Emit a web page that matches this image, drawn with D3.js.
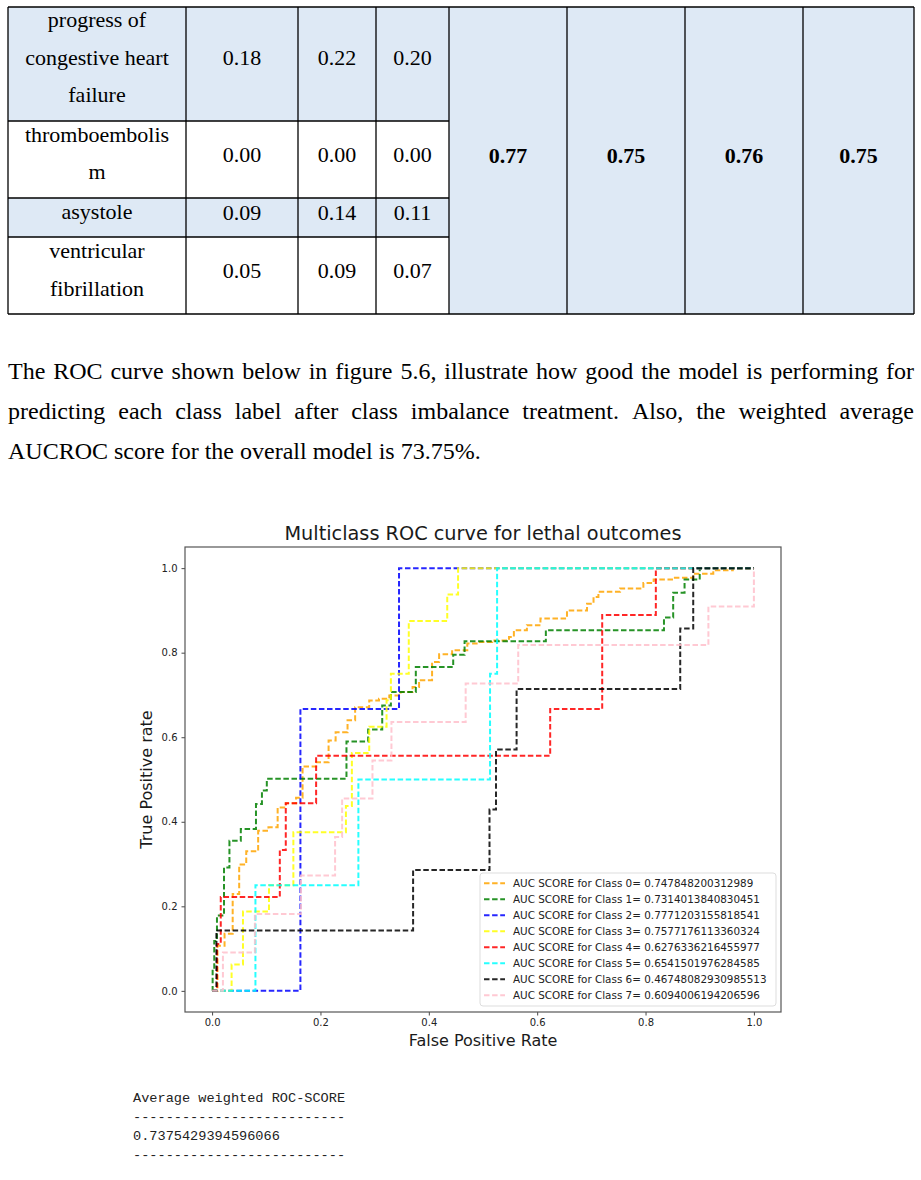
<!DOCTYPE html>
<html><head><meta charset="utf-8">
<script src="https://cdn.jsdelivr.net/npm/d3@7"></script>
<style>html,body{margin:0;padding:0;background:#fff;} svg{display:block;}</style>
</head><body>
<svg id="page" width="921" height="1180"></svg>
<script>
// ---------- table data ----------
const rowLabels = [["progress of","congestive heart","failure"],["thromboembolis","m"],["asystole"],["ventricular","fibrillation"]];
const precisionVals = ["0.18","0.00","0.09","0.05"];
const recallVals = ["0.22","0.00","0.14","0.09"];
const f1Vals = ["0.20","0.00","0.11","0.07"];
const summaryVals = ["0.77","0.75","0.76","0.75"];

// ---------- paragraph ----------
const paragraphLines = [
  "The ROC curve shown below in figure 5.6, illustrate how good the model is performing for",
  "predicting each class label after class imbalance treatment. Also, the weighted average",
  "AUCROC score for the overall model is 73.75%."
];

// ---------- ROC chart data ----------
const chartTitle = "Multiclass ROC curve for lethal outcomes";
const xTicks = [0.0, 0.2, 0.4, 0.6, 0.8, 1.0];
const yTicks = [0.0, 0.2, 0.4, 0.6, 0.8, 1.0];
const classColors = ["orange","green","blue","yellow","red","cyan","black","pink"];
const aucScores = ["0.747848200312989","0.7314013840830451","0.7771203155818541","0.7577176113360324",
                   "0.6276336216455977","0.6541501976284585","0.46748082930985513","0.6094006194206596"];

const fpr0 = [0,0.010,0.023,0.038,0.050,0.063,0.085,0.104,0.121,0.136,0.155,0.167,0.192,0.215,0.228,0.250,0.264,0.290,0.308,0.327,0.348,0.370,0.382,0.406,0.419,0.443,0.471,0.492,0.517,0.548,0.557,0.581,0.606,0.655,0.692,0.704,0.713,0.753,0.796,0.815,0.851,0.888,0.925,0.961,1.0];
const tpr0 = [0,0.107,0.135,0.229,0.299,0.330,0.379,0.387,0.434,0.444,0.457,0.531,0.541,0.592,0.612,0.640,0.671,0.687,0.691,0.699,0.707,0.719,0.735,0.778,0.796,0.806,0.822,0.825,0.829,0.837,0.853,0.865,0.881,0.900,0.916,0.932,0.944,0.952,0.965,0.973,0.977,0.987,0.995,1.0,1.0];
const fpr1 = [0,0.001,0.004,0.009,0.022,0.032,0.053,0.081,0.092,0.101,0.248,0.288,0.314,0.330,0.376,0.445,0.466,0.616,0.834,0.851,0.872,0.900,1.0];
const tpr1 = [0,0.051,0.118,0.178,0.292,0.355,0.383,0.442,0.474,0.502,0.590,0.618,0.675,0.707,0.766,0.795,0.827,0.853,0.883,0.942,0.973,1.0,1.0];
const fpr2 = [0,0.163,0.345,1.0];
const tpr2 = [0,0.667,1.0,1.0];
const fpr3 = [0,0.036,0.057,0.105,0.150,0.247,0.258,0.290,0.322,0.330,0.363,0.434,0.454,1.0];
const tpr3 = [0,0.0625,0.1875,0.25,0.375,0.4375,0.5625,0.625,0.6875,0.75,0.875,0.9375,1.0,1.0];
const fpr4 = [0,0.009,0.016,0.125,0.136,0.192,0.624,0.720,0.819,1.0];
const tpr4 = [0,0.111,0.222,0.333,0.444,0.556,0.667,0.889,1.0,1.0];
const fpr5 = [0,0.080,0.270,0.513,0.526,1.0];
const tpr5 = [0,0.25,0.5,0.75,1.0,1.0];
const fpr6 = [0,0.008,0.371,0.512,0.524,0.562,0.864,0.888,1.0];
const tpr6 = [0,0.143,0.286,0.429,0.571,0.714,0.857,1.0,1.0];
const fpr7 = [0,0.020,0.079,0.164,0.227,0.240,0.296,0.331,0.468,0.565,0.916,1.0];
const tpr7 = [0,0.091,0.182,0.273,0.364,0.455,0.545,0.636,0.727,0.818,0.909,1.0];

const fprs = [fpr0,fpr1,fpr2,fpr3,fpr4,fpr5,fpr6,fpr7];
const tprs = [tpr0,tpr1,tpr2,tpr3,tpr4,tpr5,tpr6,tpr7];

// ---------- console output ----------
const outputLines = ["Average weighted ROC-SCORE","--------------------------","0.7375429394596066","--------------------------"];

// ================= drawing =================
const serif = "'Liberation Serif','Times New Roman',serif";
const sans = "'DejaVu Sans','Bitstream Vera Sans',sans-serif";
const mono = "'Liberation Mono','DejaVu Sans Mono',monospace";
const svg = d3.select("#page");
svg.append("rect").attr("width",921).attr("height",1180).attr("fill","#fff");

// ---- table ----
const colX = [8,186,298,376,449,567,685,803,914];
const rowY = [7,121,198,237,314];
const shade = "#dee9f5";
const tbl = svg.append("g");
[0,2].forEach(r => tbl.append("rect").attr("x",colX[0]).attr("y",rowY[r]).attr("width",colX[4]-colX[0]).attr("height",rowY[r+1]-rowY[r]).attr("fill",shade));
tbl.append("rect").attr("x",colX[4]).attr("y",rowY[0]).attr("width",colX[8]-colX[4]).attr("height",rowY[4]-rowY[0]).attr("fill",shade);
const ln = (x1,y1,x2,y2) => tbl.append("line").attr("x1",x1).attr("y1",y1).attr("x2",x2).attr("y2",y2).attr("stroke","#000").attr("stroke-width",1.3);
ln(colX[0],rowY[0],colX[8],rowY[0]);
ln(colX[0],rowY[4],colX[8],rowY[4]);
[1,2,3].forEach(r => ln(colX[0],rowY[r],colX[4],rowY[r]));
colX.forEach(x => ln(x,rowY[0],x,rowY[4]));

const labelBase = [[26.7,64.5,102],[141.5,179],[218.5],[258,295.5]];
rowLabels.forEach((lines,r) => {
  lines.forEach((t,i) => {
    tbl.append("text").attr("x",(colX[0]+colX[1])/2).attr("y",labelBase[r][i]).attr("text-anchor","middle")
      .attr("font-family",serif).attr("font-size",22).attr("fill","#000").text(t);
  });
});
const valBase = [65,161.5,219.5,277.5];
[precisionVals,recallVals,f1Vals].forEach((col,c) => {
  col.forEach((v,r) => {
    tbl.append("text").attr("x",(colX[c+1]+colX[c+2])/2).attr("y",valBase[r]).attr("text-anchor","middle")
      .attr("font-family",serif).attr("font-size",22).attr("fill","#000").text(v);
  });
});
summaryVals.forEach((v,i) => {
  tbl.append("text").attr("x",(colX[4+i]+colX[5+i])/2).attr("y",162.5).attr("text-anchor","middle")
    .attr("font-family",serif).attr("font-size",22).attr("font-weight","bold").attr("fill","#000").text(v);
});

// ---- paragraph (justified) ----
const paraBase = [379,419,459];
const paraX0 = 8, paraX1 = 914;
paragraphLines.forEach((line,li) => {
  const words = line.split(" ");
  const g = svg.append("g");
  const nodes = words.map(w => g.append("text").attr("font-family",serif).attr("font-size",24).attr("fill","#000").attr("y",paraBase[li]).text(w));
  const widths = nodes.map(n => n.node().getComputedTextLength());
  const spaceW = 6;
  const total = d3.sum(widths);
  const justify = li < paragraphLines.length - 1;
  const gap = justify ? (paraX1 - paraX0 - total) / (words.length - 1) : spaceW;
  let x = paraX0;
  nodes.forEach((n,i) => { n.attr("x",x); x += widths[i] + gap; });
});

// ---- ROC chart ----
const frame = {l:185, r:781, t:547, b:1012};
const x = d3.scaleLinear().domain([-0.05,1.05]).range([frame.l,frame.r]);
const y = d3.scaleLinear().domain([-0.05,1.05]).range([frame.b,frame.t]);
const ch = svg.append("g");

const line = d3.line().x(d => x(d[0])).y(d => y(d[1])).curve(d3.curveStepAfter);
fprs.forEach((f,i) => {
  const pts = f.map((v,j) => [v, tprs[i][j]]);
  ch.append("path").datum(pts).attr("d",line).attr("fill","none")
    .attr("stroke",classColors[i]).attr("stroke-opacity",0.85).attr("stroke-width",2)
    .attr("stroke-dasharray","5.5,2.6");
});

const xAxis = ch.append("g").attr("transform",`translate(0,${frame.b})`)
  .call(d3.axisBottom(x).tickValues(xTicks).tickFormat(d3.format(".1f")).tickSize(3.5).tickPadding(3));
const yAxis = ch.append("g").attr("transform",`translate(${frame.l},0)`)
  .call(d3.axisLeft(y).tickValues(yTicks).tickFormat(d3.format(".1f")).tickSize(3.5).tickPadding(4));
[xAxis,yAxis].forEach(a => {
  a.select(".domain").remove();
  a.selectAll("line").attr("stroke","#333").attr("stroke-width",0.9);
  a.selectAll("text").attr("font-family",sans).attr("font-size",10).attr("fill","#222");
});
ch.append("rect").attr("x",frame.l).attr("y",frame.t).attr("width",frame.r-frame.l).attr("height",frame.b-frame.t)
  .attr("fill","none").attr("stroke","#555").attr("stroke-width",1.2);

ch.append("text").attr("x",(frame.l+frame.r)/2).attr("y",540).attr("text-anchor","middle")
  .attr("font-family",sans).attr("font-size",19.3).attr("fill","#1a1a1a").text(chartTitle);
ch.append("text").attr("x",(frame.l+frame.r)/2).attr("y",1046).attr("text-anchor","middle")
  .attr("font-family",sans).attr("font-size",16).attr("fill","#1a1a1a").text("False Positive Rate");
ch.append("text").attr("transform",`translate(152,${(frame.t+frame.b)/2}) rotate(-90)`).attr("text-anchor","middle")
  .attr("font-family",sans).attr("font-size",16).attr("fill","#1a1a1a").text("True Positive rate");

// legend
const lg = ch.append("g");
lg.append("rect").attr("x",480).attr("y",873).attr("width",296).attr("height",133).attr("rx",3)
  .attr("fill","#fff").attr("fill-opacity",0.9).attr("stroke","#ddd").attr("stroke-width",1);
aucScores.forEach((s,i) => {
  const cy = 883.3 + i*16;
  lg.append("line").attr("x1",484).attr("x2",505).attr("y1",cy).attr("y2",cy)
    .attr("stroke",classColors[i]).attr("stroke-opacity",0.85).attr("stroke-width",2).attr("stroke-dasharray","5.5,2.6");
  lg.append("text").attr("x",513).attr("y",cy+3.8).attr("font-family",sans).attr("font-size",10.4).attr("fill","#222")
    .text(`AUC SCORE for Class ${i}= ${s}`);
});

// ---- console output ----
const outBase = [1102,1121,1140,1159];
outputLines.forEach((t,i) => {
  svg.append("text").attr("x",133).attr("y",outBase[i]).attr("font-family",mono).attr("font-size",13.6)
    .attr("fill","#222").attr("xml:space","preserve").text(t);
});
</script>
</body></html>
